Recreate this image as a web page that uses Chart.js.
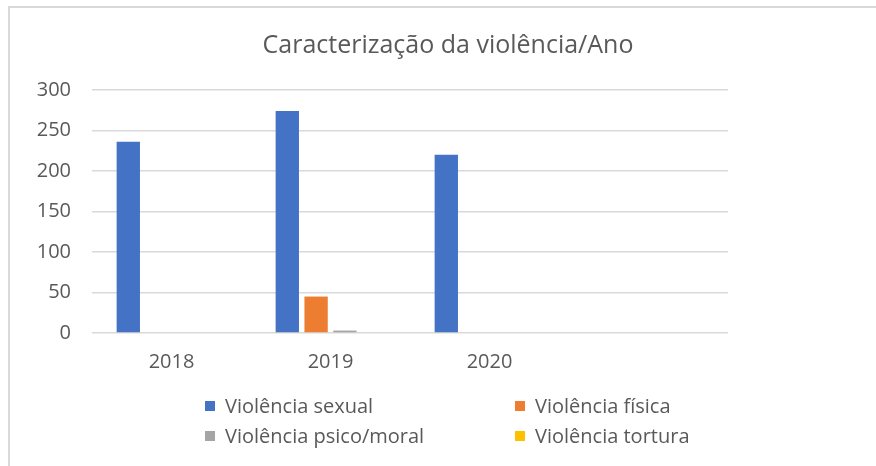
<!DOCTYPE html>
<html>
<head>
<meta charset="utf-8">
<script src="https://cdn.jsdelivr.net/npm/chart.js@4/dist/chart.umd.min.js"></script>
<style>
  html, body { margin: 0; padding: 0; background: #fff; }
  #wrap { position: relative; width: 876px; height: 466px; overflow: hidden; }
  #frame { position: absolute; left: 8px; top: 6px; width: 900px; height: 500px;
           border-top: 2px solid #d9d9d9; border-left: 2px solid #d9d9d9; }
  canvas { position: absolute; left: 0; top: 0; }
</style>
</head>
<body>
<div id="wrap">
  <div id="frame"></div>
  <canvas id="c" width="876" height="466"></canvas>
</div>
<script>
const chartTitle = 'Caracterização da violência/Ano';
const categories = ['2018', '2019', '2020', ''];
const seriesNames = ['Violência sexual', 'Violência física', 'Violência psico/moral', 'Violência tortura'];
const sexual  = [236, 274, 220, null];
const fisica  = [0, 45, 0, null];
const psico   = [0, 3, 0, null];
const tortura = [0, 0, 0, null];
const yTicks = [0, 50, 100, 150, 200, 250, 300];
const colors = ['#4472C4', '#ED7D31', '#A5A5A5', '#FFC000'];

const FONT = "'Open Sans', 'Liberation Sans', sans-serif";
const TEXT = '#595959';

const titleLegendPlugin = {
  id: 'titleLegend',
  afterDraw(chart) {
    const ctx = chart.ctx;
    ctx.save();
    ctx.fillStyle = TEXT;
    ctx.font = '25px ' + FONT;
    ctx.textAlign = 'center';
    ctx.textBaseline = 'middle';
    ctx.fillText(chartTitle, 448, 46);
    // legend 2x2
    const pos = [[205, 406], [515, 406], [205, 436], [515, 436]];
    ctx.font = '20px ' + FONT;
    ctx.textAlign = 'left';
    chart.data.datasets.forEach((ds, i) => {
      const [x, y] = pos[i];
      ctx.fillStyle = ds.backgroundColor;
      ctx.fillRect(x, y - 5, 10, 10);
      ctx.fillStyle = TEXT;
      ctx.fillText(ds.label, x + 20, y + 1);
    });
    ctx.restore();
  }
};

new Chart(document.getElementById('c'), {
  type: 'bar',
  data: {
    labels: categories,
    datasets: [sexual, fisica, psico, tortura].map((d, i) => ({
      label: seriesNames[i],
      data: d,
      backgroundColor: colors[i],
      borderWidth: 0,
      categoryPercentage: 0.7245,
      barPercentage: 0.81
    }))
  },
  options: {
    responsive: false,
    animation: false,
    layout: { padding: { left: 0, right: 148, top: 90, bottom: 83 } },
    plugins: { legend: { display: false }, title: { display: false }, tooltip: { enabled: false } },
    scales: {
      x: {
        grid: { display: false, drawTicks: false },
        border: { display: false },
        ticks: { color: TEXT, font: { family: FONT, size: 20 }, padding: 17 },
        afterFit(s) { s.height = 50; }
      },
      y: {
        min: 0, max: 300,
        afterBuildTicks(s) { s.ticks = yTicks.map(v => ({ value: v })); },
        grid: { color: '#d9d9d9', lineWidth: 1.5, drawTicks: false },
        border: { display: false },
        ticks: { color: TEXT, font: { family: FONT, size: 20 }, padding: 21 },
        afterFit(s) { s.width = 92; }
      }
    }
  },
  plugins: [titleLegendPlugin]
});
</script>
</body>
</html>
